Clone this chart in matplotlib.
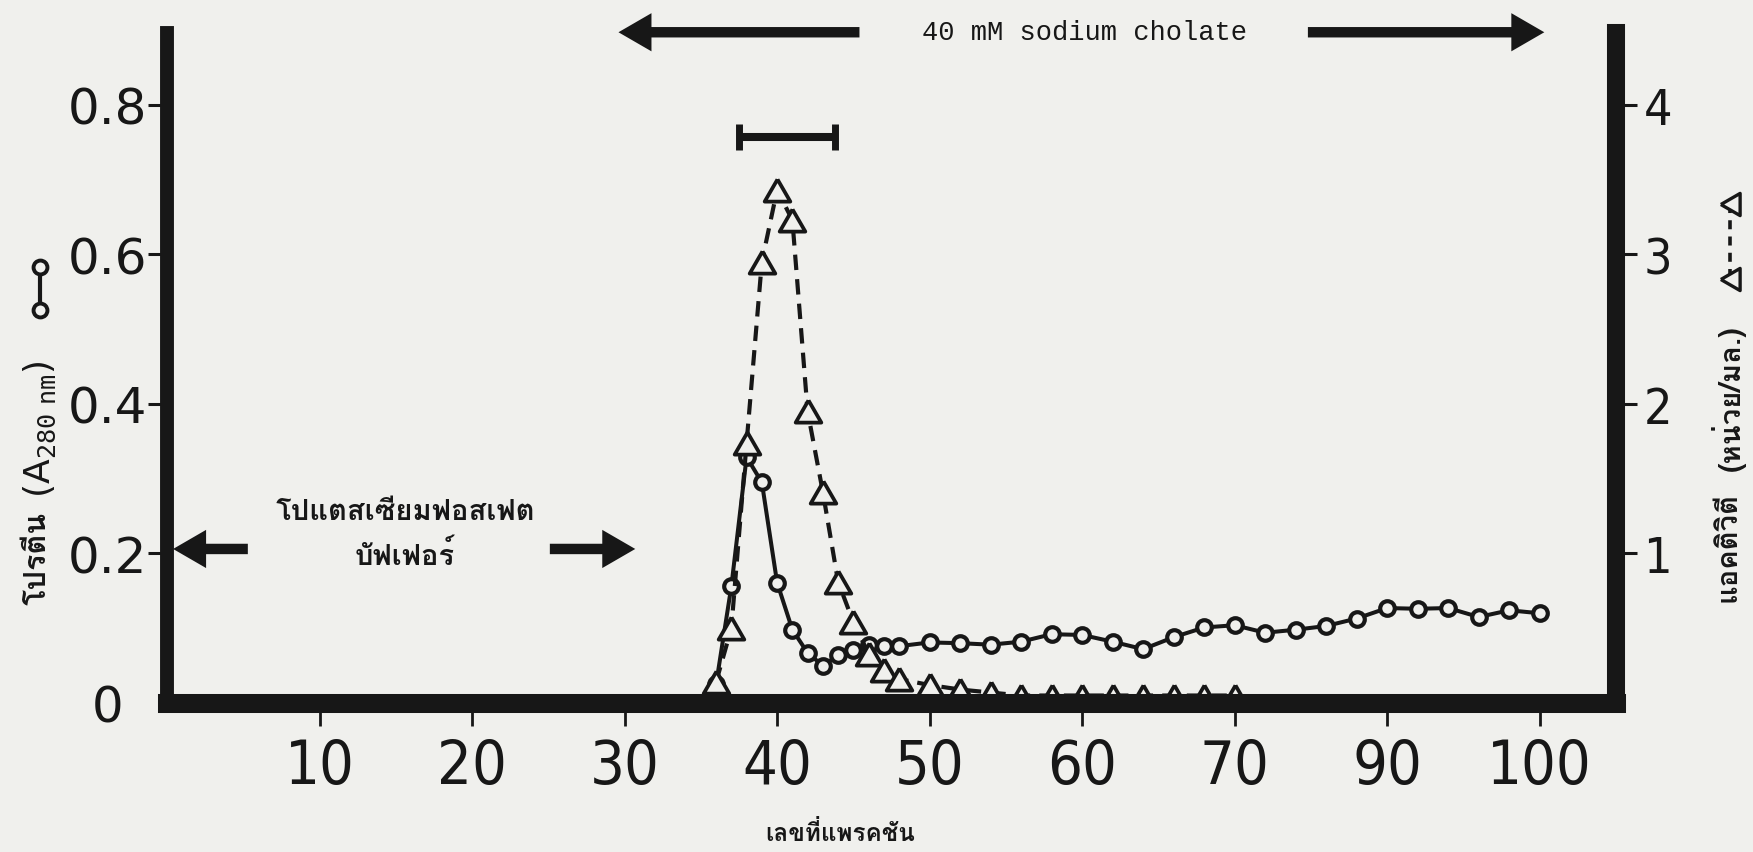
import matplotlib
matplotlib.use('Agg')
import matplotlib.pyplot as plt
from matplotlib import font_manager as fm
from matplotlib.ft2font import FT2Font
from matplotlib.lines import Line2D

# protein elution (A280), circles
prot_frac = [32, 34, 35, 36, 37, 38, 39, 40, 41, 42, 43, 44, 45, 46, 47, 48,
             50, 52, 54, 56, 58, 60, 62, 64, 66, 68, 70, 72, 74, 76, 78, 80,
             82, 84, 86, 88, 90]
prot_a280 = [0, 0, 0, 0.025, 0.156, 0.329, 0.295, 0.161, 0.098, 0.067, 0.050, 0.064,
             0.071, 0.077, 0.076, 0.076,
             0.081, 0.080, 0.078, 0.082, 0.092, 0.091, 0.082, 0.072, 0.088, 0.101,
             0.104, 0.094, 0.098, 0.103, 0.113, 0.127, 0.126, 0.127, 0.115, 0.124, 0.120]

# enzyme activity (units/ml), triangles
act_frac = [36, 37, 38, 39, 40, 41, 42, 43, 44, 45, 46, 47, 48,
            50, 52, 54, 56, 58, 60, 62, 64, 66, 68, 70]
act_units = [0.14, 0.50, 1.74, 2.95, 3.43, 3.23, 1.95, 1.41, 0.81, 0.54, 0.33, 0.22, 0.16,
             0.12, 0.09, 0.07, 0.05, 0.05, 0.05, 0.05, 0.05, 0.05, 0.05, 0.05]

# pooled fractions
pool_from, pool_to = 37.5, 43.8

frac_ticks = [10, 20, 30, 40, 50, 60, 70, 80, 90]
frac_labels = ['10', '20', '30', '40', '50', '60', '70', '90', '100']
a280_ticks = [0, 0.2, 0.4, 0.6, 0.8]
a280_labels = ['0', '0.2', '0.4', '0.6', '0.8']
act_ticks = [1, 2, 3, 4]
act_labels = ['1', '2', '3', '4']

ink = '#171717'
paper = '#f0f0ed'

W, H = 1753, 853


def fx(px):
    return px / W


def fy(py):
    return 1 - py / H


def thai_font():
    for f in fm.fontManager.ttflist:
        try:
            if ord('\u0e01') in FT2Font(f.fname).get_charmap():
                return f.name
        except Exception:
            continue
    return 'DejaVu Sans'


def narrow_font():
    # a condensed upright face for the numbers, if one is installed
    for f in fm.fontManager.ttflist:
        n = f.name.lower()
        if f.style != 'normal' or f.weight not in (400, 500, 'normal', 'regular', 'medium'):
            continue
        if f.stretch in ('condensed', 'semi-condensed', 'extra-condensed') \
                or 'narrow' in n or 'condensed' in n:
            return fm.FontProperties(fname=f.fname)
    return None


thai = [thai_font(), 'DejaVu Sans']
narrow = narrow_font()
if narrow is None:
    narrow = fm.FontProperties(family='DejaVu Sans')
    xnum_size, rnum_size = 38, 33
else:
    xnum_size, rnum_size = 44, 36

fig = plt.figure(figsize=(W / 100, H / 100), dpi=100, facecolor=paper)
ax = fig.add_axes([fx(167), fy(704), fx(1616) - fx(167), fy(34) - fy(704)])
ax.set_facecolor('none')
ax2 = ax.twinx()

ax.set_xlim(0, 95)
ax.set_ylim(0, 0.896)
ax2.set_ylim(0, 0.896 * 5)

for s in ax.spines.values():
    s.set_visible(False)
ax2.spines['top'].set_visible(False)
for side, lw in (('left', 10), ('bottom', 13.7), ('right', 13)):
    ax2.spines[side].set_linewidth(lw)
    ax2.spines[side].set_color(ink)
    ax2.spines[side].set_capstyle('projecting')

tri_up = [(0, 0.866), (-1, -0.866), (1, -0.866), (0, 0.866)]
tri_left = [(-0.866, 0), (0.866, 1), (0.866, -1), (-0.866, 0)]

ax.plot(prot_frac, prot_a280, color=ink, lw=2.9, marker='o', ms=10.5, mew=3,
        mfc=paper, mec=ink, zorder=2)
ax2.plot(act_frac, act_units, color=ink, lw=3, ls=(0, (3.7, 2.2)), marker=tri_up,
         ms=18.5, mew=2.7, mfc=paper, mec=ink, zorder=2)

# ticks
ax.tick_params(axis='x', direction='out', length=16.5, width=2, pad=8, colors=ink)
ax.tick_params(axis='y', direction='out', length=13.7, width=2.2, pad=29, colors=ink)
ax2.tick_params(axis='y', direction='out', length=15, width=2.2, pad=15, colors=ink)
ax.set_xticks(frac_ticks, frac_labels, fontproperties=narrow, fontsize=xnum_size,
              color=ink)
ax.set_yticks(a280_ticks, a280_labels, fontsize=36, fontfamily='DejaVu Sans',
              color=ink, ha='center')
ax.yaxis.get_major_ticks()[0].tick1line.set_visible(False)
ax2.set_yticks(act_ticks, act_labels, fontproperties=narrow, fontsize=rnum_size,
               color=ink, ha='center')

# pooled fractions bracket
ax.errorbar([(pool_from + pool_to) / 2], [0.757], xerr=[(pool_to - pool_from) / 2],
            fmt='none', ecolor=ink, elinewidth=5.8, capsize=9.7, capthick=5)

# buffer arrows
arrow = dict(arrowstyle='simple,head_length=0.95,head_width=1.1,tail_width=0.3',
             fc=ink, ec='none', mutation_scale=25, shrinkA=0, shrinkB=0)
ax.annotate('', xy=(0.4, 0.206), xytext=(5.3, 0.206), arrowprops=arrow)
ax.annotate('', xy=(30.7, 0.206), xytext=(25.1, 0.206), arrowprops=arrow)
ax.text(15.6, 0.227, 'โปแตสเซียมฟอสเฟต\nบัฟเฟอร์', ha='center', va='center',
        fontsize=21, family=thai, weight='bold', color=ink, linespacing=1.6)

# cholate arrows
ax.annotate('', xy=(29.6, 0.897), xytext=(45.4, 0.897), arrowprops=arrow,
            annotation_clip=False)
ax.annotate('', xy=(90.3, 0.897), xytext=(74.8, 0.897), arrowprops=arrow,
            annotation_clip=False)
fig.text(fx(1085), fy(33), '40 mM sodium cholate', ha='center', va='center',
         fontsize=19.5, family='Liberation Mono', color=ink)

# axis titles
fig.text(fx(840), fy(834), 'เลขที่แพรคชัน', ha='center', va='center', fontsize=17.5,
         family=thai, weight='bold', color=ink)
fig.text(fx(38), fy(558), 'โปรตีน', rotation=90, ha='center', va='center', fontsize=22,
         family=thai, weight='bold', color=ink)
fig.text(fx(40), fy(429), r'(A$_{\mathtt{280\ nm}}$)', rotation=90, ha='center',
         va='center', fontsize=26, color=ink)
fig.add_artist(Line2D([fx(40), fx(40)], [fy(268), fy(311)], transform=fig.transFigure,
                      color=ink, lw=3, marker='o', ms=10, mew=2.8, mfc=paper, mec=ink))

fig.text(fx(1728), fy(547), 'แอคติวิตี', rotation=90, ha='center', va='center',
         fontsize=21, family=thai, weight='bold', color=ink)
fig.text(fx(1728), fy(398), '(หน่วย/มล.)', rotation=90, ha='center', va='center',
         fontsize=21, family=thai, weight='bold', color=ink)
fig.add_artist(Line2D([fx(1730), fx(1730)], [fy(205), fy(280)], transform=fig.transFigure,
                      color=ink, lw=2.6, ls=(0, (2.5, 2)), marker=tri_left, ms=16, mew=2.4,
                      mfc=paper, mec=ink))

fig.savefig('out.png', dpi=100, facecolor=paper)
